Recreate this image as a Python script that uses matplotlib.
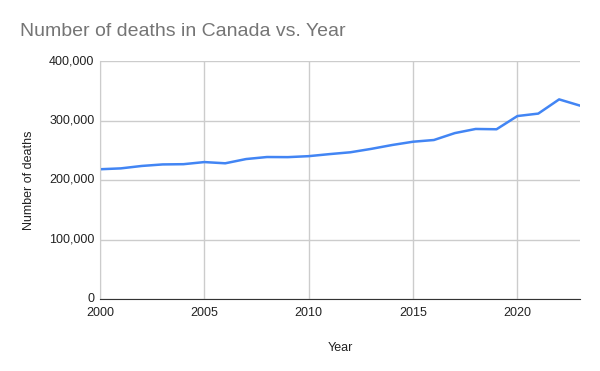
import matplotlib
matplotlib.use("Agg")
import matplotlib.pyplot as plt
from matplotlib.ticker import FuncFormatter

years = list(range(2000, 2024))
deaths = [218062, 219538, 223603, 226169, 226584, 230132, 228079, 235217,
          238617, 238418, 240075, 243511, 246596, 252338, 258821, 264333,
          267213, 278822, 285776, 285270, 307500, 311600, 335500, 325000]
x_ticks = [2000, 2005, 2010, 2015, 2020]
y_ticks = [0, 100000, 200000, 300000, 400000]

plt.rcParams['font.family'] = ['Liberation Sans', 'DejaVu Sans']

fig = plt.figure(figsize=(6, 3.71), dpi=100)
ax = fig.add_axes([100/600, 72/371, 480/600, 238/371])

ax.plot(years, deaths, color='#4285F4', linewidth=1.8)
ax.set_xlim(2000, 2023)
ax.set_ylim(0, 400000)
ax.set_xticks(x_ticks)
ax.set_yticks(y_ticks)
ax.yaxis.set_major_formatter(FuncFormatter(lambda v, p: f"{int(v):,}"))
ax.grid(True, color='#cccccc', linewidth=1)
ax.set_axisbelow(True)
for s in ['top', 'right']:
    ax.spines[s].set_visible(False)
ax.spines['left'].set_color('#cccccc')
ax.spines['bottom'].set_color('#333333')
ax.tick_params(length=0, labelsize=9, colors='#222222')
ax.tick_params(axis='x', pad=6)
ax.tick_params(axis='y', pad=4)
for lbl in ax.get_yticklabels():
    lbl.set_verticalalignment('center')
ax.set_xlabel('Year', fontsize=9, color='#222222', labelpad=16)
ax.set_ylabel('Number of deaths', fontsize=9, color='#222222', labelpad=10)

fig.text(20/600, 1 - 32/371, 'Number of deaths in Canada vs. Year', fontsize=14,
         color='#757575', va='center', ha='left')

fig.savefig('out.png', dpi=100)
